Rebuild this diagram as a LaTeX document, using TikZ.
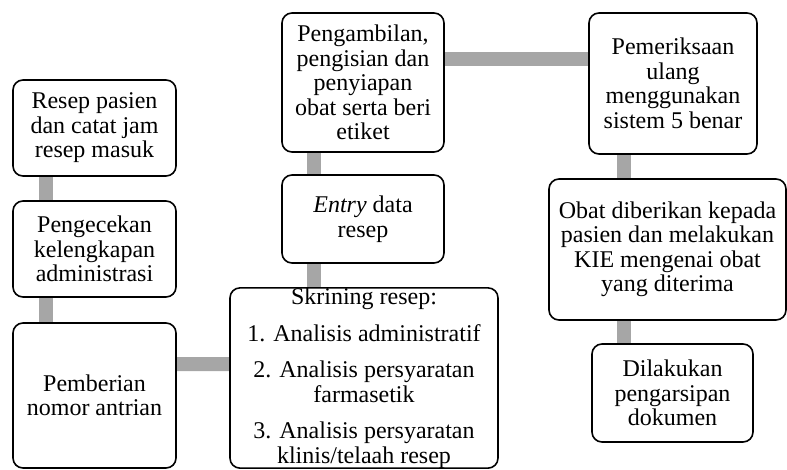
\documentclass[tikz,border=0pt]{standalone}
\usepackage{fontspec}
\setmainfont{Liberation Serif}
\usetikzlibrary{calc,backgrounds}

\tikzset{
  stepbox/.style={draw=black, line width=1.6pt, rounded corners=10pt, fill=white,
    align=center, inner sep=0pt, font=\fontsize{24}{24.5}\selectfont},
  conn/.style={draw=black!35, line width=14pt}
}

\begin{document}
\begin{tikzpicture}[x=1pt,y=-1pt]
\useasboundingbox (0,0) rectangle (787,469);

% left column
\node[stepbox, minimum width=163pt, minimum height=96pt] (A) at (94.5,128)
  {Resep pasien\\dan catat jam\\resep masuk};
\node[stepbox, minimum width=163pt, minimum height=96pt] (B) at (94.5,249)
  {Pengecekan\\kelengkapan\\administrasi};
\node[stepbox, minimum width=163pt, minimum height=145pt] (C) at (94.5,395.5)
  {Pemberian\\nomor antrian};

% middle column
\node[stepbox, minimum width=268pt, minimum height=180pt] (D) at (364,378)
  {Skrining resep:\\[12pt]1. Analisis administratif\\[12pt]2. Analisis persyaratan\\farmasetik\\[12pt]3. Analisis persyaratan\\klinis/telaah resep};
\node[stepbox, minimum width=162pt, minimum height=88pt] (E) at (363,219)
  {\textit{Entry} data\\resep};
\node[stepbox, minimum width=162pt, minimum height=139pt] (F) at (363,82.5)
  {Pengambilan,\\pengisian dan\\penyiapan\\obat serta beri\\etiket};

% right column
\node[stepbox, minimum width=168pt, minimum height=141pt] (G) at (673,83.5)
  {Pemeriksaan\\ulang\\menggunakan\\sistem 5 benar};
\node[stepbox, minimum width=237pt, minimum height=141pt] (H) at (667.5,249.5)
  {Obat diberikan kepada\\pasien dan melakukan\\KIE mengenai obat\\yang diterima};
\node[stepbox, minimum width=161pt, minimum height=98pt] (I) at (672.5,393)
  {Dilakukan\\pengarsipan\\dokumen};

% connectors behind the boxes
\begin{scope}[on background layer]
  \draw[conn] ($(A.south west)+(34,0)$) -- ($(B.north west)+(34,0)$);
  \draw[conn] ($(B.south west)+(34,0)$) -- ($(C.north west)+(34,0)$);
  \draw[conn] ($(C.north east)+(0,42)$) -- ($(D.north west)+(0,77)$);
  \draw[conn] ($(D.north west)+(85,0)$) -- ($(E.south west)+(33,0)$);
  \draw[conn] ($(E.north west)+(33,0)$) -- ($(F.south west)+(33,0)$);
  \draw[conn] ($(F.north east)+(0,47)$) -- ($(G.north west)+(0,47)$);
  \draw[conn] ($(G.south west)+(36,0)$) -- ($(H.north west)+(76,0)$);
  \draw[conn] ($(H.south west)+(76,0)$) -- ($(I.north west)+(33,0)$);
\end{scope}
\end{tikzpicture}
\end{document}
